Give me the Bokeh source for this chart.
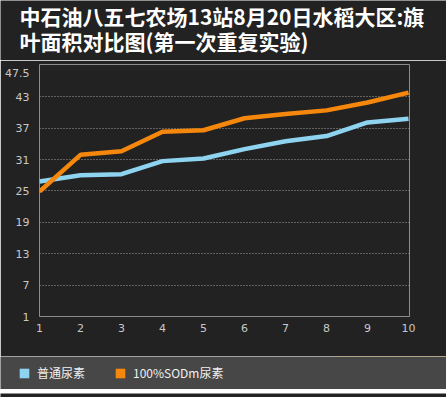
from bokeh.plotting import figure
from bokeh.layouts import column, row
from bokeh.models import Range1d, FixedTicker, Label, Legend, LegendItem
from bokeh.embed import file_html
from bokeh.resources import INLINE

# ---- data ----
title_lines = ["中石油八五七农场13站8月20日水稻大区:旗", "叶面积对比图(第一次重复实验)"]
days = [1, 2, 3, 4, 5, 6, 7, 8, 9, 10]
x_ticks = [1, 2, 3, 4, 5, 6, 7, 8, 9, 10]
y_ticks = [1, 7, 13, 19, 25, 31, 37, 43, 47.5]
grid_ticks = [7, 13, 19, 25, 31, 37, 43]
series_names = ["普通尿素", "100%SODm尿素"]
normal_urea = [26.8, 28.0, 28.2, 30.7, 31.2, 33.0, 34.5, 35.5, 38.1, 38.8]
sodm_urea = [24.9, 31.9, 32.6, 36.3, 36.6, 38.9, 39.7, 40.4, 41.9, 43.8]
colors = ["#8ed4f0", "#f5870d"]

BG = "#222222"
BAND = "#474747"
W = 446


def strip(height, color):
    f = figure(width=W, height=height, output_backend="svg", toolbar_location=None,
               title=None, x_axis_type=None, y_axis_type=None, min_border=0,
               min_border_left=0, min_border_right=0, min_border_top=0, min_border_bottom=0,
               x_range=Range1d(0, 1), y_range=Range1d(-2, -1),
               background_fill_color=color, border_fill_color=color)
    f.outline_line_color = None
    f.xgrid.visible = False
    f.ygrid.visible = False
    return f


# ---- title strip ----
pt = strip(60, BG)
for txt, yy in zip(title_lines, [45, 20]):
    pt.add_layout(Label(x=19, y=yy, x_units="screen", y_units="screen", text=txt,
                        text_color="white", text_font="Noto Sans CJK SC",
                        text_font_size="21px", text_font_style="bold",
                        text_baseline="middle"))

# ---- main chart ----
p = figure(width=W, height=296, output_backend="svg", toolbar_location=None,
           title=None,
           x_range=Range1d(1, 10.024), y_range=Range1d(1, 49.17),
           min_border_left=39, min_border_right=37, min_border_top=4, min_border_bottom=40,
           background_fill_color=BG, border_fill_color=BG)

p.outline_line_color = "#8c8c8c"
p.outline_line_width = 1

for ax in (p.xaxis[0], p.yaxis[0]):
    ax.axis_line_color = None
    ax.major_tick_line_color = None
    ax.minor_tick_line_color = None
    ax.major_tick_out = 0
    ax.major_tick_in = 0
    ax.minor_tick_out = 0
    ax.minor_tick_in = 0
    ax.major_label_text_color = "#c8c8c8"
    ax.major_label_text_font = "DejaVu Sans"
    ax.major_label_text_font_size = "11px"
p.xaxis.ticker = FixedTicker(ticks=x_ticks)
p.yaxis.ticker = FixedTicker(ticks=y_ticks)
p.xaxis.major_label_standoff = 7
p.yaxis.major_label_standoff = 10

p.xgrid.visible = False
p.ygrid.ticker = FixedTicker(ticks=grid_ticks)
p.ygrid.grid_line_color = "#a0a0a0"
p.ygrid.grid_line_dash = "1 2"
p.ygrid.grid_line_width = 1

p.line(days, normal_urea, line_color=colors[0], line_width=4.5)
p.line(days, sodm_urea, line_color=colors[1], line_width=4.5)

# ---- legend band ----
pl = strip(33, BAND)
# legend swatch renderers (series bars, outside this strip's visible range)
r0 = pl.vbar(x=days, top=normal_urea, width=0.5, fill_color=colors[0], line_color=None)
r1 = pl.vbar(x=days, top=sodm_urea, width=0.5, fill_color=colors[1], line_color=None)
legend = Legend(items=[LegendItem(label=series_names[0], renderers=[r0]),
                       LegendItem(label=series_names[1], renderers=[r1])],
                location=(18, 8), orientation="horizontal",
                glyph_width=12, glyph_height=12, label_standoff=7, spacing=29,
                padding=0, margin=0, border_line_color=None, background_fill_alpha=0,
                label_text_color="#f0f0f0", label_text_font_size="12px",
                label_text_font="Noto Sans CJK SC", label_height=12, label_width=10)
pl.add_layout(legend)

ps = strip(8, BG)

layout = column(row(pt), p, row(pl), row(ps), spacing=0)

open("out.html", "w").write(file_html(layout, INLINE))
